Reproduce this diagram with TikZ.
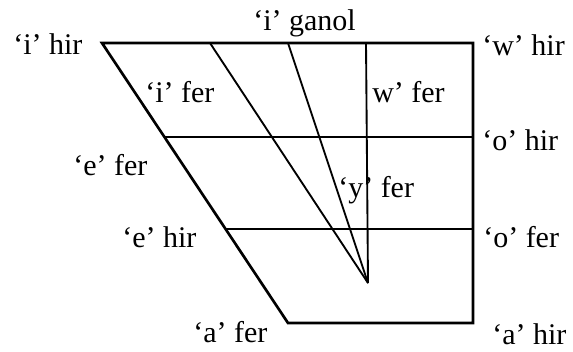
\documentclass[tikz,border=0pt]{standalone}
\usepackage{fontspec}
\setmainfont{Liberation Serif}
\begin{document}
\begin{tikzpicture}[x=0.75pt,y=-0.75pt,
  outer/.style={line width=2pt,line join=miter},
  inner/.style={line width=1.4pt},
  lbl/.style={anchor=base west,inner sep=0pt,font=\fontsize{22.5}{26}\selectfont}]
\useasboundingbox (0,0) rectangle (573,351);
% corners
\coordinate (TL) at (102,43);
\coordinate (TR) at (473,43);
\coordinate (BR) at (473,323);
\coordinate (BL) at (288,323);
% horizontal lines
\coordinate (H1L) at (164.5,137);
\coordinate (H1R) at (473,137);
\coordinate (H2L) at (225.5,229);
\coordinate (H2R) at (473,229);
% top points of converging lines
\coordinate (T1) at (210,43);
\coordinate (T2) at (288,43);
\coordinate (T3) at (366,43);
\coordinate (AP) at (368,283);
% outline
\draw[outer] (TL) -- (TR) -- (BR) -- (BL) -- cycle;
\draw[inner] (H1L) -- (H1R);
\draw[inner] (H2L) -- (H2R);
\draw[inner] (T1) -- (AP);
\draw[inner] (T2) -- (AP);
\draw[inner] (T3) -- (AP);
% labels
\node[lbl] (ihir) at (13,54) {‘i’ hir};
\node[lbl] (iganol) at (253,30) {‘i’ ganol};
\node[lbl] (whir) at (482,55) {‘w’ hir};
\node[lbl] (ifer) at (145,102) {‘i’ fer};
\node[lbl] (wfer) at (372,102) {w’ fer};
\node[lbl] (ohir) at (482,150) {‘o’ hir};
\node[lbl] (efer) at (73,175) {‘e’ fer};
\node[lbl] (yfer) at (338,197) {‘y’ fer};
\node[lbl] (ehir) at (122,247) {‘e’ hir};
\node[lbl] (ofer) at (483,247) {‘o’ fer};
\node[lbl] (afer) at (193,342) {‘a’ fer};
\node[lbl] (ahir) at (492,344) {‘a’ hir};
\end{tikzpicture}
\end{document}
